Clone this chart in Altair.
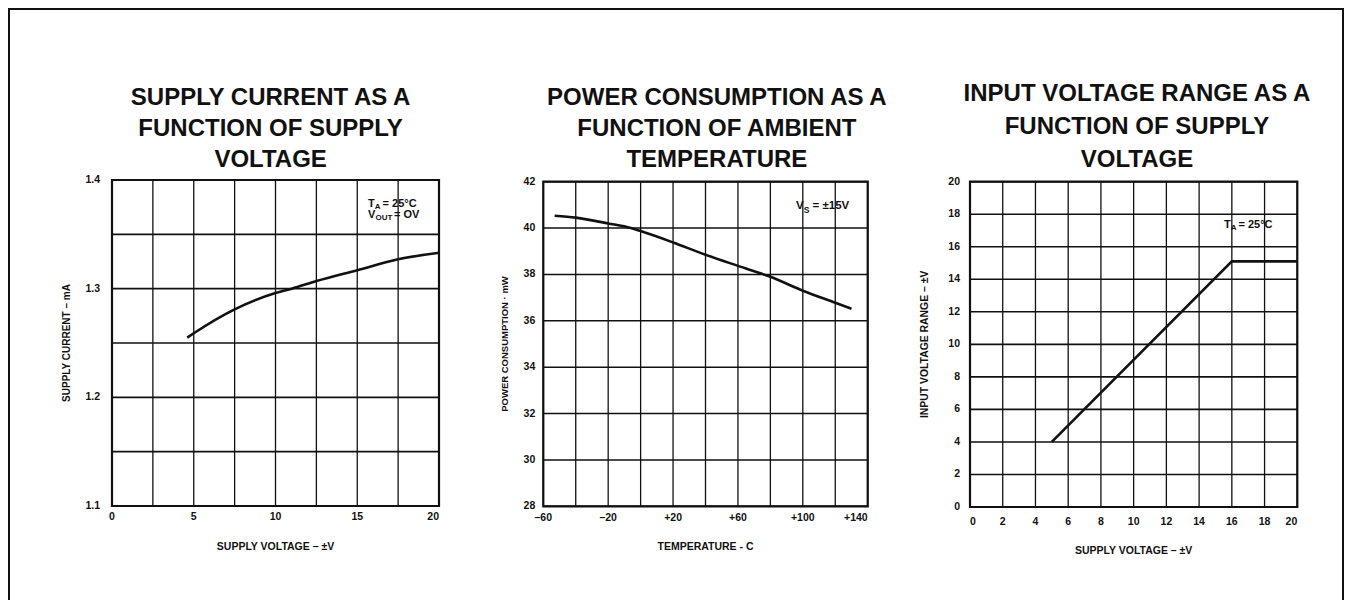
import altair as alt
import pandas as pd

W, H = 1336, 592
FONT = "Liberation Sans"
INK = "#111111"

# ---------------- data ----------------
# Panel 1: supply current vs supply voltage
p1_volts = [4.6, 5, 7.5, 10, 11, 12.5, 15, 17.5, 20]
p1_current = [1.255, 1.259, 1.281, 1.296, 1.300, 1.307, 1.317, 1.327, 1.333]
p1_xgrid = [0, 2.5, 5, 7.5, 10, 12.5, 15, 17.5, 20]
p1_ygrid = [1.1, 1.15, 1.2, 1.25, 1.3, 1.35, 1.4]
p1_xticks = [0, 5, 10, 15, 20]
p1_xlabels = ["0", "5", "10", "15", "20"]
p1_yticks = [1.1, 1.2, 1.3, 1.4]
p1_ylabels = ["1.1", "1.2", "1.3", "1.4"]

# Panel 2: power consumption vs ambient temperature
p2_temp = [-53, -40, -20, -6, 0, 20, 40, 60, 80, 100, 120, 130]
p2_power = [40.53, 40.45, 40.2, 40.0, 39.87, 39.38, 38.85, 38.37, 37.9, 37.3, 36.78, 36.52]
p2_xgrid = [-60, -40, -20, 0, 20, 40, 60, 80, 100, 120, 140]
p2_ygrid = [28, 30, 32, 34, 36, 38, 40, 42]
p2_xticks = [-60, -20, 20, 60, 100, 140]
p2_xlabels = ["\u201360", "\u201320", "+20", "+60", "+100", "+140"]
p2_yticks = [28, 30, 32, 34, 36, 38, 40, 42]
p2_ylabels = ["28", "30", "32", "34", "36", "38", "40", "42"]

# Panel 3: input voltage range vs supply voltage
p3_volts = [5, 16, 20]
p3_range = [4, 15.1, 15.1]
p3_xgrid = [0, 2, 4, 6, 8, 10, 12, 14, 16, 18, 20]
p3_ygrid = [0, 2, 4, 6, 8, 10, 12, 14, 16, 18, 20]
p3_xticks = [0, 2, 4, 6, 8, 10, 12, 14, 16, 18, 20]
p3_xlabels = ["0", "2", "4", "6", "8", "10", "12", "14", "16", "18", "20"]
p3_yticks = [0, 2, 4, 6, 8, 10, 12, 14, 16, 18, 20]
p3_ylabels = ["0", "2", "4", "6", "8", "10", "12", "14", "16", "18", "20"]

titles = [
    ["SUPPLY CURRENT AS A", "FUNCTION OF SUPPLY", "VOLTAGE"],
    ["POWER CONSUMPTION AS A", "FUNCTION OF AMBIENT", "TEMPERATURE"],
    ["INPUT VOLTAGE RANGE AS A", "FUNCTION OF SUPPLY", "VOLTAGE"],
]
x_titles = ["SUPPLY VOLTAGE \u2013 \u00b1V", "TEMPERATURE -  C", "SUPPLY VOLTAGE \u2013 \u00b1V"]
y_titles = ["SUPPLY CURRENT \u2013 mA", "POWER CONSUMPTION \u00b7 mW", "INPUT VOLTAGE RANGE \u2013 \u00b1V"]

one = pd.DataFrame({"a": [0]})


def txt(**kw):
    base = dict(font=FONT, fontWeight="bold", color=INK)
    base.update(kw)
    return base


def text_piece(xs, ys, xd, yd, s, dx, dy, size):
    return alt.Chart(one).mark_text(
        **txt(text=s, align="left", baseline="middle", dx=dx, dy=dy, fontSize=size)
    ).encode(
        x=alt.XDatum(xd, scale=xs, axis=None),
        y=alt.YDatum(yd, scale=ys, axis=None),
    )


def panel(xv, yv, xdom, ydom, xrange, yrange, xgrid, ygrid,
          xticks, xlabels, yticks, ylabels, xtitle, ytitle,
          title_lines, title_xd, title_y, title_lh,
          xlab_dy, ylab_dx, xtitle_dy, ytitle_off, ytitle_size,
          first_align, interp, annos):
    xs = alt.Scale(domain=xdom, range=xrange, nice=False, zero=False)
    ys = alt.Scale(domain=ydom, range=yrange, nice=False, zero=False)

    vgrid = alt.Chart(pd.DataFrame({"g": xgrid})).mark_rule(
        color=INK, strokeWidth=1.3
    ).encode(
        x=alt.X("g:Q", scale=xs, axis=None),
        y=alt.YDatum(ydom[0], scale=ys, axis=None),
        y2=alt.datum(ydom[1]),
    )
    hgrid = alt.Chart(pd.DataFrame({"g": ygrid})).mark_rule(
        color=INK, strokeWidth=1.6
    ).encode(
        y=alt.Y("g:Q", scale=ys, axis=None),
        x=alt.XDatum(xdom[0], scale=xs, axis=None),
        x2=alt.datum(xdom[1]),
    )
    border = alt.Chart(one).mark_rect(
        fillOpacity=0, stroke=INK, strokeWidth=2.2
    ).encode(
        x=alt.XDatum(xdom[0], scale=xs, axis=None),
        x2=alt.datum(xdom[1]),
        y=alt.YDatum(ydom[0], scale=ys, axis=None),
        y2=alt.datum(ydom[1]),
    )
    line = alt.Chart(pd.DataFrame({"x": xv, "y": yv})).mark_line(
        color=INK, strokeWidth=2.6, interpolate=interp
    ).encode(
        x=alt.X("x:Q", scale=xs, axis=None),
        y=alt.Y("y:Q", scale=ys, axis=None),
    )

    # x tick labels: first, middle, last (last flush right)
    xl = pd.DataFrame({"v": xticks, "t": xlabels})
    def xlab(df, align):
        return alt.Chart(df).mark_text(
            **txt(align=align, baseline="middle", dy=xlab_dy, fontSize=10.5)
        ).encode(
            x=alt.X("v:Q", scale=xs, axis=None),
            y=alt.YDatum(ydom[0], scale=ys, axis=None),
            text="t:N",
        )
    xlab_first = xlab(xl.iloc[:1], first_align)
    xlab_mid = xlab(xl.iloc[1:-1], "center")
    xlab_last = xlab(xl.iloc[-1:], "right")

    ylab = alt.Chart(pd.DataFrame({"v": yticks, "t": ylabels})).mark_text(
        **txt(align="right", baseline="middle", dx=ylab_dx, fontSize=10.5)
    ).encode(
        y=alt.Y("v:Q", scale=ys, axis=None),
        x=alt.XDatum(xdom[0], scale=xs, axis=None),
        text="t:N",
    )

    xtit = alt.Chart(one).mark_text(
        **txt(text=xtitle, align="center", baseline="middle", dy=xtitle_dy, fontSize=10.5)
    ).encode(
        x=alt.XDatum((xdom[0] + xdom[1]) / 2, scale=xs, axis=None),
        y=alt.YDatum(ydom[0], scale=ys, axis=None),
    )
    ytit = alt.Chart(one).mark_text(
        **txt(text=ytitle, align="center", baseline="middle", angle=270,
              dy=ytitle_off, fontSize=ytitle_size)
    ).encode(
        x=alt.XDatum(xdom[0], scale=xs, axis=None),
        y=alt.YDatum((ydom[0] + ydom[1]) / 2, scale=ys, axis=None),
    )

    title = alt.Chart(one).mark_text(
        **txt(text=title_lines, align="center", baseline="alphabetic",
              lineHeight=title_lh, fontSize=24)
    ).encode(
        x=alt.XDatum(title_xd, scale=xs, axis=None),
        y=alt.value(title_y),
    )
    pieces = [text_piece(xs, ys, *a) for a in annos]
    return alt.layer(vgrid, hgrid, border, line, xlab_first, xlab_mid, xlab_last,
                     ylab, xtit, ytit, title, *pieces)


p1 = panel(
    p1_volts, p1_current, [0, 20], [1.1, 1.4], [104, 431], [498, 172],
    p1_xgrid, p1_ygrid, p1_xticks, p1_xlabels, p1_yticks, p1_ylabels,
    x_titles[0], y_titles[0], titles[0], 9.7, 97, 31,
    11, -12, 41, -45, 10, "center", "monotone",
    [
        (15.66, 1.378, "T", 0, 0, 11),
        (15.66, 1.378, "A", 6.8, 3.5, 8),
        (15.66, 1.378, "= 25\u00b0C", 14.5, 0, 11),
        (15.66, 1.368, "V", 0, 0, 11),
        (15.66, 1.368, "OUT", 7.4, 3.5, 8),
        (15.66, 1.368, "= OV", 26, 0, 11),
    ],
)

p2 = panel(
    p2_temp, p2_power, [-60, 140], [28, 42], [535.3, 859.7], [498.3, 173.7],
    p2_xgrid, p2_ygrid, p2_xticks, p2_xlabels, p2_yticks, p2_ylabels,
    x_titles[1], y_titles[1], titles[1], 47, 97, 31,
    12, -8, 41, -38, 9.5, "center", "monotone",
    [
        (95.8, 40.95, "V", 0, 0, 11.5),
        (95.8, 40.95, "S", 7.8, 3.5, 8.5),
        (95.8, 40.95, "= \u00b115V", 16.5, 0, 11.5),
    ],
)

p3 = panel(
    p3_volts, p3_range, [0, 20], [0, 20], [962, 1289.3], [499, 173.7],
    p3_xgrid, p3_ygrid, p3_xticks, p3_xlabels, p3_yticks, p3_ylabels,
    x_titles[2], y_titles[2], titles[2], 10.2, 93, 33,
    14.5, -10, 44, -45, 10.4, "left", "linear",
    [
        (15.52, 17.34, "T", 0, 0, 11),
        (15.52, 17.34, "A", 6.8, 3.5, 8),
        (15.52, 17.34, "= 25\u00b0C", 14.5, 0, 11),
    ],
)

frame_left = alt.Chart(one).mark_rule(color=INK, strokeWidth=2).encode(
    x=alt.value(1), y=alt.value(0), y2=alt.value(H)
)
frame_top = alt.Chart(one).mark_rule(color=INK, strokeWidth=2).encode(
    x=alt.value(0), x2=alt.value(W), y=alt.value(1)
)
frame_right = alt.Chart(one).mark_rule(color=INK, strokeWidth=2).encode(
    x=alt.value(W - 1), y=alt.value(0), y2=alt.value(H)
)

chart = alt.layer(p1, p2, p3, frame_left, frame_top, frame_right).resolve_scale(
    x="independent", y="independent"
).properties(
    width=W, height=H, padding=0,
    autosize=alt.AutoSizeParams(type="none"),
    background="white",
).configure_view(stroke="transparent")

chart.save("out.html", embed_options={"renderer": "svg", "actions": False})
